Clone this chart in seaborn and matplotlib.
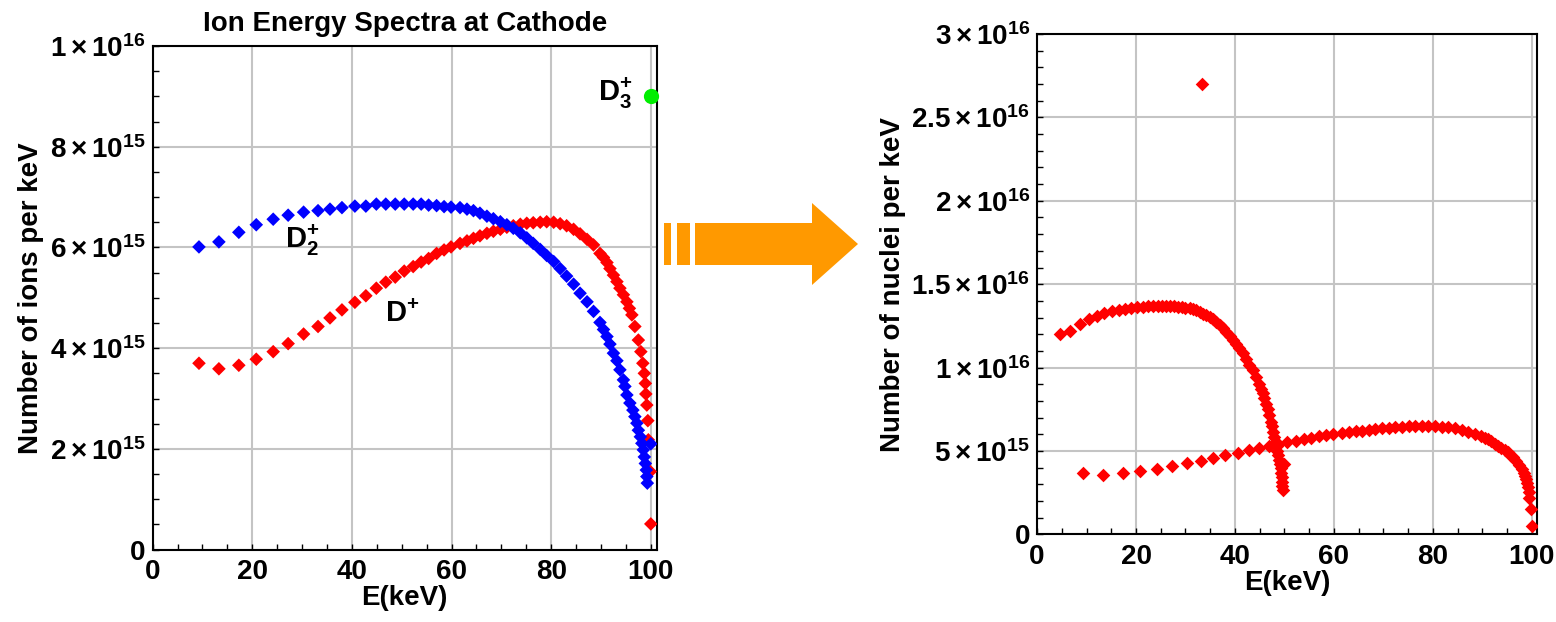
import numpy as np
import pandas as pd
import matplotlib
matplotlib.use("Agg")
import matplotlib.pyplot as plt
from matplotlib.patches import Rectangle, Polygon
from matplotlib.ticker import MultipleLocator, FuncFormatter
import seaborn as sns

# ion energy spectra (E in keV, counts in 1e15 per keV)
d1_energy = [9.3, 13.3, 17.3, 20.8, 24.2, 27.2, 30.3, 33.2, 35.6, 38.0, 40.6, 42.8,
             44.9, 46.8, 48.7, 50.5, 52.3, 53.9, 55.4, 57.0, 58.5, 59.9,
             61.7, 63.1, 64.4, 65.7, 67.1, 68.4, 69.8, 71.1, 72.4, 73.8, 75.1, 76.4,
             77.8, 79.1, 80.5, 81.8, 83.1, 84.5, 85.8, 87.2, 88.5, 89.8,
             90.5, 91.2, 91.8, 92.5, 93.2, 93.8, 94.5, 95.2, 95.7, 96.2, 96.8, 97.5,
             98.0, 98.4, 98.7, 98.9, 99.0, 99.2, 99.4, 99.5, 99.9, 100.0]
d1_count = [3.70, 3.59, 3.66, 3.78, 3.93, 4.09, 4.28, 4.43, 4.60, 4.76, 4.91, 5.04,
            5.19, 5.31, 5.41, 5.53, 5.62, 5.71, 5.78, 5.88, 5.95, 6.01,
            6.08, 6.13, 6.18, 6.23, 6.28, 6.32, 6.36, 6.40, 6.43, 6.46, 6.48, 6.49,
            6.50, 6.51, 6.50, 6.47, 6.43, 6.36, 6.27, 6.16, 6.05, 5.88,
            5.80, 5.70, 5.58, 5.45, 5.32, 5.19, 5.06, 4.92, 4.79, 4.66, 4.43, 4.16,
            3.93, 3.70, 3.50, 3.30, 3.09, 2.87, 2.56, 2.18, 1.55, 0.51]

d2_energy = [9.3, 13.3, 17.3, 20.8, 24.2, 27.2, 30.3, 33.2, 35.6, 38.0, 40.6, 42.8,
             44.9, 46.8, 48.7, 50.5, 52.3, 53.9, 55.4, 57.0, 58.5, 59.9,
             61.7, 63.1, 64.4, 65.7, 67.1, 68.4, 69.8, 71.1, 72.4, 73.8, 75.1, 76.4,
             77.8, 79.1, 80.5, 81.8, 83.1, 84.5, 85.8, 87.2, 88.5, 89.8,
             90.5, 91.2, 91.8, 92.5, 93.2, 93.8, 94.5, 94.8, 95.2, 95.8, 96.4, 96.8,
             97.2, 97.5, 97.9, 98.2, 98.5, 98.7, 98.9, 99.1, 99.2, 99.3, 100.0]
d2_count = [6.01, 6.11, 6.30, 6.45, 6.56, 6.64, 6.70, 6.73, 6.76, 6.79, 6.82, 6.82,
            6.86, 6.86, 6.86, 6.86, 6.86, 6.86, 6.84, 6.83, 6.81, 6.80,
            6.79, 6.76, 6.73, 6.68, 6.62, 6.57, 6.51, 6.45, 6.38, 6.29, 6.19, 6.08,
            5.96, 5.84, 5.72, 5.58, 5.43, 5.27, 5.09, 4.92, 4.73, 4.51,
            4.37, 4.23, 4.08, 3.90, 3.75, 3.57, 3.37, 3.24, 3.07, 2.91, 2.77, 2.64,
            2.51, 2.37, 2.24, 2.11, 1.98, 1.84, 1.71, 1.58, 1.45, 1.32, 2.10]

d3_energy = [100.0]
d3_count = [9.0]

sns.set_style("whitegrid")
plt.rcParams["font.family"] = ["Liberation Sans", "DejaVu Sans"]
plt.rcParams["font.weight"] = "bold"
plt.rcParams["text.color"] = "black"
plt.rcParams["axes.labelcolor"] = "black"
plt.rcParams["xtick.color"] = "black"
plt.rcParams["ytick.color"] = "black"
plt.rcParams["mathtext.fontset"] = "custom"
plt.rcParams["mathtext.rm"] = "Liberation Sans"
plt.rcParams["mathtext.bf"] = "Liberation Sans:bold"
plt.rcParams["mathtext.it"] = "Liberation Sans:italic"

ions = pd.concat([
    pd.DataFrame({"E": d1_energy, "N": np.array(d1_count) * 1e15, "ion": "D+"}),
    pd.DataFrame({"E": d2_energy, "N": np.array(d2_count) * 1e15, "ion": "D2+"}),
    pd.DataFrame({"E": d3_energy, "N": np.array(d3_count) * 1e15, "ion": "D3+"}),
])

# molecular ions break up into n nuclei, each with E/n
n_nuc = ions["ion"].map({"D+": 1, "D2+": 2, "D3+": 3})
nuclei = pd.DataFrame({"E": ions["E"] / n_nuc, "N": ions["N"] * n_nuc})


def sci_label(v, pos):
    if v <= 0:
        return "0" if abs(v) < 1 else ""
    e = int(np.floor(np.log10(v) + 1e-9))
    m = v / 10 ** e
    ms = ("%g" % round(m, 2))
    return r"$\mathbf{%s}\times\mathbf{10}^{\mathrm{%d}}$" % (ms, e)


def style_axis(ax, xmax, ytop, ymajor, yminor):
    ax.set_xlim(0, xmax)
    ax.set_ylim(0, ytop)
    ax.xaxis.set_major_locator(MultipleLocator(20))
    ax.xaxis.set_minor_locator(MultipleLocator(5))
    ax.yaxis.set_major_locator(MultipleLocator(ymajor))
    ax.yaxis.set_minor_locator(MultipleLocator(yminor))
    ax.yaxis.set_major_formatter(FuncFormatter(sci_label))
    ax.grid(True, which="major", color="#c4c4c4", linewidth=1.5)
    ax.grid(False, which="minor")
    ax.tick_params(which="both", direction="in", bottom=True, left=True,
                   top=False, right=False, length=4, width=1, color="black",
                   labelsize=20)
    ax.tick_params(axis="x", pad=7)
    ax.tick_params(axis="y", pad=5)
    for s in ax.spines.values():
        s.set_color("black")
        s.set_linewidth(1.5)
    ax.set_xlabel("E(keV)", fontsize=20, fontweight="bold", labelpad=0)


fig = plt.figure(figsize=(15.56, 6.22), dpi=100)

# orange arrow between the panels (pixel coordinates of the figure)
ov = fig.add_axes([0, 0, 1, 1])
ov.set_xlim(0, 1556)
ov.set_ylim(622, 0)
ov.axis("off")
orange = "#ff9900"
ov.add_patch(Rectangle((664, 223), 7, 42, color=orange, lw=0))
ov.add_patch(Rectangle((677, 223), 13, 42, color=orange, lw=0))
ov.add_patch(Polygon([(695, 223), (812, 223), (812, 203), (858, 244),
                      (812, 285), (812, 265), (695, 265)], closed=True,
                     color=orange, lw=0))

ax1 = fig.add_axes([0.0981, 0.1164, 0.3240, 0.8097])
ax2 = fig.add_axes([0.6665, 0.1407, 0.3211, 0.8047])

ion_colors = {"D+": "#ff0000", "D2+": "#0000ff", "D3+": "#00ee00"}
sub = ions[ions["ion"] != "D3+"]
sns.scatterplot(data=sub, x="E", y="N", hue="ion", palette=ion_colors,
                marker="D", s=48, linewidth=0, legend=False, ax=ax1, zorder=3)
sns.scatterplot(data=ions[ions["ion"] == "D3+"], x="E", y="N", hue="ion",
                palette=ion_colors, marker="o", s=120, linewidth=0,
                legend=False, ax=ax1, zorder=3, clip_on=False)
style_axis(ax1, 101.2, 1e16, 2e15, 5e14)
ax1.set_ylabel("Number of ions per keV", fontsize=20, fontweight="bold", labelpad=4)
ax1.set_title("Ion Energy Spectra at Cathode", fontsize=20, fontweight="bold", pad=11)

ax1.text(26.6, 6.14e15, r"$\mathbf{D}_{\mathrm{2}}^{\mathrm{+}}$", fontsize=21,
         ha="left", va="center")
ax1.text(46.7, 4.68e15, r"$\mathbf{D}^{\mathrm{+}}$", fontsize=21,
         ha="left", va="center")
ax1.text(89.4, 9.06e15, r"$\mathbf{D}_{\mathrm{3}}^{\mathrm{+}}$", fontsize=21,
         ha="left", va="center")

sns.scatterplot(data=nuclei, x="E", y="N", color="#ff0000", marker="D", s=48,
                linewidth=0, ax=ax2, zorder=3)
style_axis(ax2, 101.0, 3e16, 5e15, 1e15)
ax2.set_ylabel("Number of nuclei per keV", fontsize=20, fontweight="bold", labelpad=4)

fig.savefig("out.png", dpi=100)
